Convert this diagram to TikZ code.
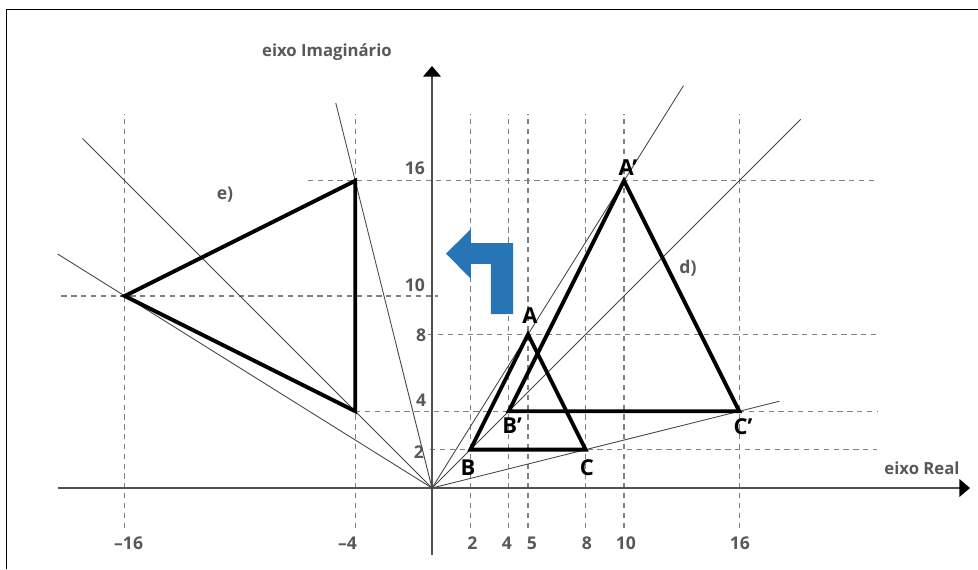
\documentclass[tikz,border=0pt]{standalone}
\usepackage{fontspec}
\setmainfont{Open Sans}
\usepackage{tikz}
\usetikzlibrary{positioning,arrows.meta}
\definecolor{AxisGray}{RGB}{80,80,80}
\definecolor{GridGray}{RGB}{128,128,128}
\definecolor{RayGray}{RGB}{70,70,70}
\definecolor{LabelGray}{RGB}{88,88,88}
\definecolor{TurnBlue}{RGB}{40,117,182}

\begin{document}
\begin{tikzpicture}[
    x=0.384cm,
    y=0.384cm,
    axisline/.style={line width=0.8pt, draw=AxisGray, -{Triangle[length=6pt, width=10pt, color=black]}},
    gridline/.style={draw=GridGray, line width=0.6pt, dash pattern=on 3pt off 2.6pt},
    rayline/.style={draw=RayGray, line width=0.5pt},
    triangleline/.style={draw=black, line width=2.2pt, line join=miter},
    frameline/.style={draw=black, line width=0.6pt},
    ticklabel/.style={text=LabelGray, font=\bfseries\fontsize{10}{12}\selectfont, inner sep=1pt},
    pointlabel/.style={text=black, font=\bfseries\fontsize{12.5}{14}\selectfont, inner sep=1pt},
    axislabel/.style={text=LabelGray, font=\bfseries\fontsize{9.5}{11}\selectfont, inner sep=1pt}
]

% Fixed frame of the page, origin of the complex plane sits inside it.
\useasboundingbox (-22.5,-4.21875) rectangle (28.4375,25.4167);
\draw[frameline] (-22.14,-4.21875) -- (-22.14,24.9) -- (28.4375,24.9);

% Vertical dashed guides at the real parts of the vertices.
\draw[gridline] (-16,-2.08) -- (-16,19.5);
\draw[gridline] (-4,-2.08) -- (-4,19.5);
\draw[gridline] (2,-2.08) -- (2,19.5);
\draw[gridline] (4,-2.08) -- (4,19.5);
\draw[gridline] (5,-2.08) -- (5,19.5);
\draw[gridline] (8,-2.08) -- (8,19.5);
\draw[gridline] (10,-2.08) -- (10,19.5);
\draw[gridline] (16,-2.08) -- (16,19.5);

% Horizontal dashed guides at the imaginary parts.
\draw[gridline] (-6.46,16) -- (23.2,16);
\draw[gridline] (-19.3,10) -- (0.3,10);
\draw[gridline] (-0.2,8) -- (23.2,8);
\draw[gridline] (-4,4) -- (23.2,4);
\draw[gridline] (-0.1,2) -- (23.2,2);

% Axes of the complex plane.
\coordinate (O) at (0,0);
\coordinate (realstart) at (-19.48,0);
\coordinate (realend) at (28.02,0);
\coordinate (imagstart) at (0,-3.49);
\coordinate (imagend) at (0,21.98);
\draw[axisline] (realstart) -- (realend);
\draw[axisline] (imagstart) -- (imagend);

% Vertices of the three triangles.
\coordinate (A) at (5,8);
\coordinate (B) at (2,2);
\coordinate (C) at (8,2);
\coordinate (A') at (10,16);
\coordinate (B') at (4,4);
\coordinate (C') at (16,4);
\coordinate (E1) at (-4,16);
\coordinate (E2) at (-16,10);
\coordinate (E3) at (-4,4);

% Thin rays from the origin through the vertices.
\coordinate (rayA) at (13.1,20.96);
\coordinate (rayB) at (19.2,19.2);
\coordinate (rayC) at (18.1,4.52);
\coordinate (rayE1) at (-5.01,20.05);
\coordinate (rayE2) at (-18.2,18.2);
\coordinate (rayE3) at (-19.5,12.19);
\draw[rayline] (O) -- (rayA);
\draw[rayline] (O) -- (rayB);
\draw[rayline] (O) -- (rayC);
\draw[rayline] (O) -- (rayE1);
\draw[rayline] (O) -- (rayE2);
\draw[rayline] (O) -- (rayE3);

% Triangles: original, scaled copy d) and rotated copy e).
\draw[triangleline] (A) -- (B) -- (C) -- cycle;
\draw[triangleline] (A') -- (B') -- (C') -- cycle;
\draw[triangleline] (E1) -- (E2) -- (E3) -- cycle;

% Blue turn arrow between the two halves.
\fill[TurnBlue] (4.22,9.06) -- (4.22,12.76) -- (2.03,12.76) -- (2.03,13.49)
    -- (0.73,12.21) -- (2.03,10.89) -- (2.03,11.67) -- (3.07,11.67)
    -- (3.07,9.06) -- cycle;

% Axis names.
\node[axislabel] (imaglabel) at (-5.47,22.7) {eixo Imaginário};
\node[axislabel] (reallabel) at (25.52,1.04) {eixo Real};

% Tick labels on the imaginary axis.
\node[ticklabel] (tick16y) at (-0.89,16.67) {16};
\node[ticklabel] (tick10y) at (-0.89,10.57) {10};
\node[ticklabel] (tick8y) at (-0.57,7.97) {8};
\node[ticklabel] (tick4y) at (-0.57,4.58) {4};
\node[ticklabel] (tick2y) at (-0.68,1.875) {2};

% Tick labels on the real axis.
\node[ticklabel] (tickm16x) at (-15.8,-2.86) {–16};
\node[ticklabel] (tickm4x) at (-4.4,-2.86) {–4};
\node[ticklabel] (tick2x) at (2.1,-2.86) {2};
\node[ticklabel] (tick4x) at (3.9,-2.86) {4};
\node[ticklabel] (tick5x) at (5.2,-2.86) {5};
\node[ticklabel] (tick8x) at (8.07,-2.86) {8};
\node[ticklabel] (tick10x) at (10.1,-2.86) {10};
\node[ticklabel] (tick16x) at (16.04,-2.86) {16};

% Vertex names.
\node[pointlabel] (labelA) at (5.1,8.96) {A};
\node[pointlabel] (labelB) at (1.875,1.04) {B};
\node[pointlabel] (labelC) at (8.07,1.04) {C};
\node[pointlabel] (labelA') at (10.2,16.7) {A’};
\node[pointlabel] (labelB') at (4.17,3.23) {B’};
\node[pointlabel] (labelC') at (16.2,3.18) {C’};

% Names of the transformed figures.
\node[ticklabel] (labeld) at (13.33,11.46) {d)};
\node[ticklabel] (labele) at (-10.78,15.26) {e)};

\end{tikzpicture}
\end{document}
